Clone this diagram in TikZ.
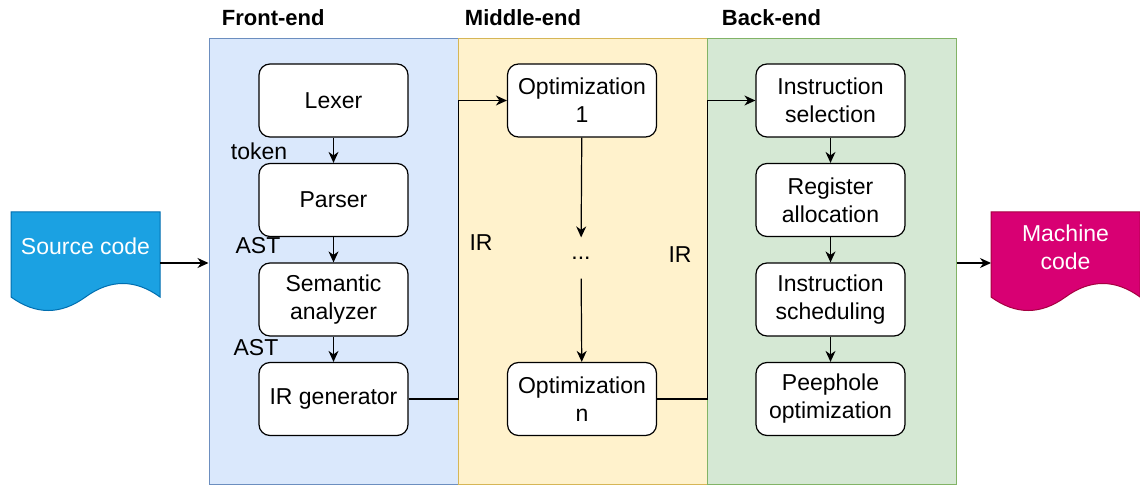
\documentclass[tikz,border=0pt]{standalone}
\usepackage{fontspec}
\setmainfont{Liberation Sans}
\usetikzlibrary{arrows.meta}
\definecolor{feFill}{HTML}{DAE8FC}
\definecolor{feLine}{HTML}{6C8EBF}
\definecolor{meFill}{HTML}{FFF2CC}
\definecolor{meLine}{HTML}{D6B656}
\definecolor{beFill}{HTML}{D5E8D4}
\definecolor{beLine}{HTML}{82B366}
\definecolor{srcFill}{HTML}{1BA1E2}
\definecolor{srcLine}{HTML}{006EAF}
\definecolor{mcFill}{HTML}{D80073}
\definecolor{mcLine}{HTML}{A50040}
\begin{document}
\begin{tikzpicture}[x=1pt, y=-1pt, line width=1.2pt,
        every node/.style={font=\fontsize{23}{28}\selectfont, align=center},
        box/.style={draw, rounded corners=11pt, fill=white, minimum width=149pt, minimum height=73pt},
        panel/.style={draw, line width=1pt, minimum width=249pt, minimum height=445pt, inner sep=0pt},
        arr/.style={-{Stealth[length=11pt, width=10pt, inset=3.5pt]}}]
            \useasboundingbox (0,0) rectangle (1140,486);
            \node[panel, fill=feFill, draw=feLine] (front) at (333.5,261.5) {};
            \node[panel, fill=meFill, draw=meLine] (mid) at (582.5,261.5) {};
            \node[panel, fill=beFill, draw=beLine] (back) at (831.5,261.5) {};
            \foreach \n/\x/\t in {tfront/218/Front-end, tmid/461/Middle-end, tback/718/Back-end} {
                \node[anchor=west, font=\bfseries\fontsize{22}{28}\selectfont] (\n) at (\x,18) {\t};
            }
            \foreach \x/\fc/\dc in {11/srcFill/srcLine, 991/mcFill/mcLine} {
                \draw[shift={(\x,212)}, fill=\fc, draw=\dc, line width=1pt] (0,0) -- (149,0) -- (149,85)
                    .. controls (124.17,67) and (99.33,67) .. (74.5,85)
                    .. controls (49.67,103) and (24.83,103) .. (0,85) -- cycle;
            }
            \node[text=white] (src) at (85.5,246) {Source code};
            \node[text=white] (mc) at (1065.5,247) {Machine\\code};
            \coordinate (srcR) at (160,263);
            \coordinate (mcL) at (991,263);
            \foreach \n/\x/\y/\t in {lex/333.5/100.5/Lexer, par/333.5/200/Parser, sem/333.5/299.5/{Semantic\\analyzer}, irg/333.5/399/IR generator,
                    opt1/582/100.5/{Optimization\\1}, optn/582/399/{Optimization\\n},
                    isel/830.5/100.5/{Instruction\\selection}, reg/830.5/200/{Register\\allocation}, isch/830.5/299.5/{Instruction\\scheduling}, peep/830.5/399/{Peephole\\optimization}} {
                \node[box] (\n) at (\x,\y) {\t};
            }
            \node[minimum height=40pt, inner sep=0pt] (dots) at (581,258) {...};
            \foreach \a/\b in {lex/par, par/sem, sem/irg, opt1/dots, dots/optn, isel/reg, reg/isch, isch/peep} {
                \draw[arr] (\a) -- (\b);
            }
            \draw[arr] (srcR) -- (srcR -| front.west);
            \draw[arr] (back.east |- mcL) -- (mcL);
            \draw[arr] (irg.east) -- (irg.east -| front.east) |- (opt1.west);
            \draw[arr] (optn.east) -- (optn.east -| mid.east) |- (isel.west);
            \node (ltok) at (259,151) {token};
            \node (last1) at (258,246) {AST};
            \node (last2) at (256,348) {AST};
            \node (lir1) at (481,243) {IR};
            \node (lir2) at (680,255) {IR};
        \end{tikzpicture}
\end{document}
